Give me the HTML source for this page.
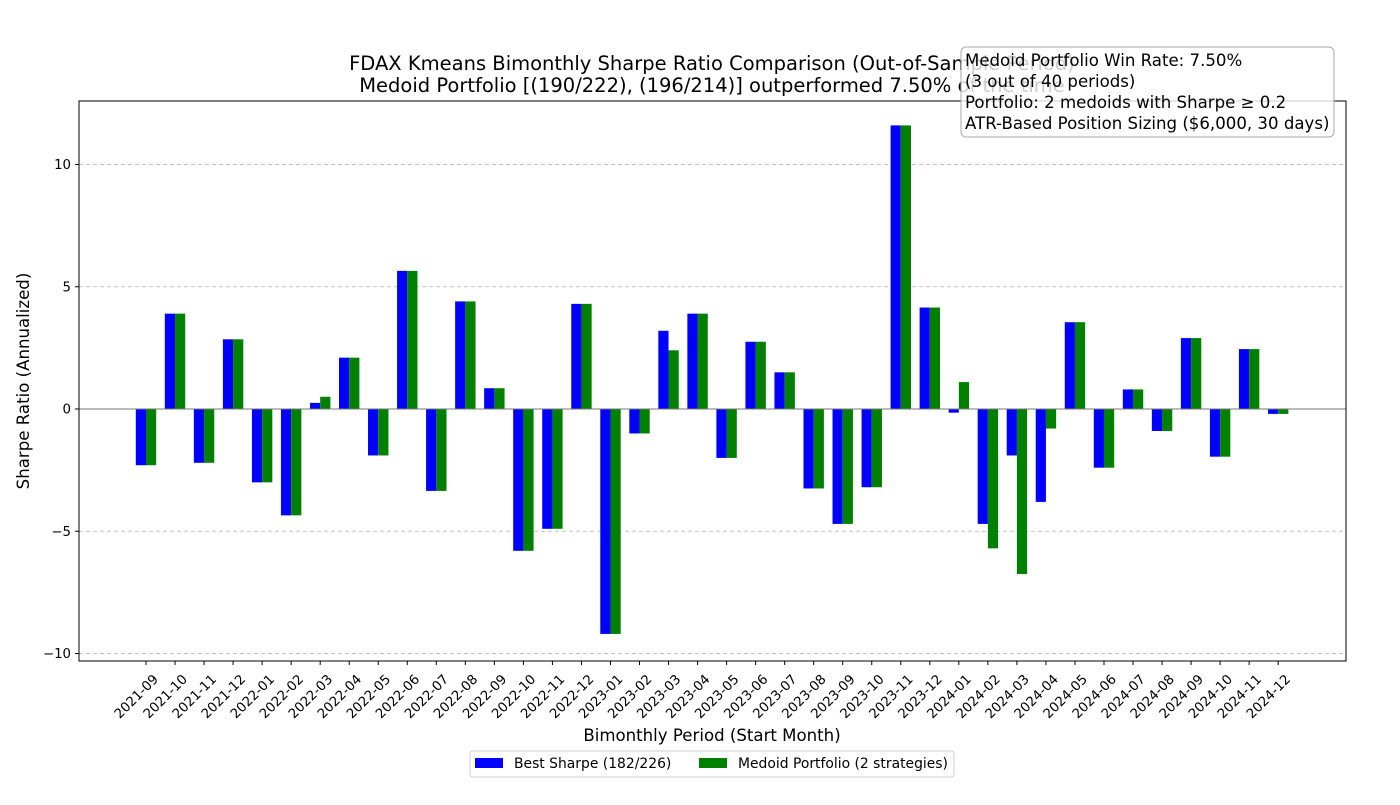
<!DOCTYPE html>
<html><head><meta charset="utf-8"><style>
body{margin:0;background:#fff;}
svg text{font-family:"DejaVu Sans","Liberation Sans",sans-serif;}
</style></head><body>
<svg id="chart" width="1400" height="800" viewBox="0 0 1400 800">
<rect width="1400" height="800" fill="#fff"/>
<g id="grid"></g>
<g id="bars"></g>
<g id="axes"></g>
<text x="712" y="70" font-size="19.5" text-anchor="middle">FDAX Kmeans Bimonthly Sharpe Ratio Comparison (Out-of-Sample Period)</text>
<text x="712" y="92" font-size="19.5" text-anchor="middle">Medoid Portfolio [(190/222), (196/214)] outperformed 7.50% of the time</text>
<text transform="translate(29,381) rotate(-90)" font-size="16.6" text-anchor="middle">Sharpe Ratio (Annualized)</text>
<text x="712" y="741" font-size="16.6" text-anchor="middle">Bimonthly Period (Start Month)</text>
<g>
<rect x="961" y="47" width="373" height="90" rx="5" fill="#fff" fill-opacity="0.8" stroke="#aaa"/>
<text x="965" y="66" font-size="16.6">Medoid Portfolio Win Rate: 7.50%</text>
<text x="965" y="87" font-size="16.6">(3 out of 40 periods)</text>
<text x="965" y="108" font-size="16.6">Portfolio: 2 medoids with Sharpe ≥ 0.2</text>
<text x="965" y="129" font-size="16.6">ATR-Based Position Sizing ($6,000, 30 days)</text>
</g>
<g>
<rect x="470" y="751" width="484" height="26" rx="3" fill="#fff" stroke="#ccc"/>
<rect x="475" y="758" width="28" height="10" fill="#0000ff"/>
<text x="514" y="768" font-size="13.9">Best Sharpe (182/226)</text>
<rect x="699" y="758" width="28" height="10" fill="#008000"/>
<text x="738" y="768" font-size="13.9">Medoid Portfolio (2 strategies)</text>
</g>
</svg>
<script>
const categories=["2021-09","2021-10","2021-11","2021-12","2022-01","2022-02","2022-03","2022-04","2022-05","2022-06","2022-07","2022-08","2022-09","2022-10","2022-11","2022-12","2023-01","2023-02","2023-03","2023-04","2023-05","2023-06","2023-07","2023-08","2023-09","2023-10","2023-11","2023-12","2024-01","2024-02","2024-03","2024-04","2024-05","2024-06","2024-07","2024-08","2024-09","2024-10","2024-11","2024-12"];
const bestSharpe=[-2.3,3.9,-2.2,2.85,-3.0,-4.35,0.25,2.1,-1.9,5.65,-3.35,4.4,0.85,-5.8,-4.9,4.3,-9.2,-1.0,3.2,3.9,-2.0,2.75,1.5,-3.25,-4.7,-3.2,11.6,4.15,-0.15,-4.7,-1.9,-3.8,3.55,-2.4,0.8,-0.9,2.9,-1.95,2.45,-0.2];
const medoidSharpe=[-2.3,3.9,-2.2,2.85,-3.0,-4.35,0.5,2.1,-1.9,5.65,-3.35,4.4,0.85,-5.8,-4.9,4.3,-9.2,-1.0,2.4,3.9,-2.0,2.75,1.5,-3.25,-4.7,-3.2,11.6,4.15,1.1,-5.7,-6.75,-0.8,3.55,-2.4,0.8,-0.9,2.9,-1.95,2.45,-0.2];
const yTicks=[-10,-5,0,5,10];
const NS="http://www.w3.org/2000/svg";
const L=79,R=1346,T=101,B=661;
const y=v=>409-v*24.45;
const x=i=>146+i*29.03;
const bw=10.2;
function mk(tag,attrs,parent){const e=document.createElementNS(NS,tag);for(const k in attrs)e.setAttribute(k,attrs[k]);document.getElementById(parent).appendChild(e);return e;}
yTicks.forEach(t=>{
 const g=mk('line',{x1:L,x2:R,y1:y(t),y2:y(t),stroke:'#b0b0b0','stroke-dasharray':'4,3','stroke-width':0.8},'grid');
 
 
 const tk=mk('line',{x1:L-4,x2:L,y1:y(t),y2:y(t),stroke:'#000'},'axes');
 
 
 const tl=mk('text',{x:L-8,y:y(t)+4.5,'font-size':13.3,'text-anchor':'end'},'axes');
 tl.textContent=(t<0?'\u2212'+(-t):t);
 
 
});
categories.forEach((c,i)=>{
 const b=bestSharpe[i],m=medoidSharpe[i];
 const r1=mk('rect',{x:x(i)-bw,y:Math.min(y(0),y(b)),width:bw,height:Math.abs(y(b)-y(0)),fill:'#0000ff'},'bars');
 
 
 const r2=mk('rect',{x:x(i),y:Math.min(y(0),y(m)),width:bw,height:Math.abs(y(m)-y(0)),fill:'#008000'},'bars');
 
 
 const tk=mk('line',{x1:x(i),x2:x(i),y1:B,y2:B+4,stroke:'#000'},'axes');
 
 
 const ax=x(i)+13, ay=B+19;
 const tl=mk('text',{x:ax,y:ay,'font-size':13.3,'text-anchor':'end',transform:`rotate(-45 ${ax} ${ay})`},'axes');
 tl.textContent=c;
 
 
});
const z=mk('line',{x1:L,x2:R,y1:y(0),y2:y(0),stroke:'#777','stroke-width':1},'axes');


const f=mk('rect',{x:L,y:T,width:R-L,height:B-T,fill:'none',stroke:'#000'},'axes');


</script>
</body></html>
